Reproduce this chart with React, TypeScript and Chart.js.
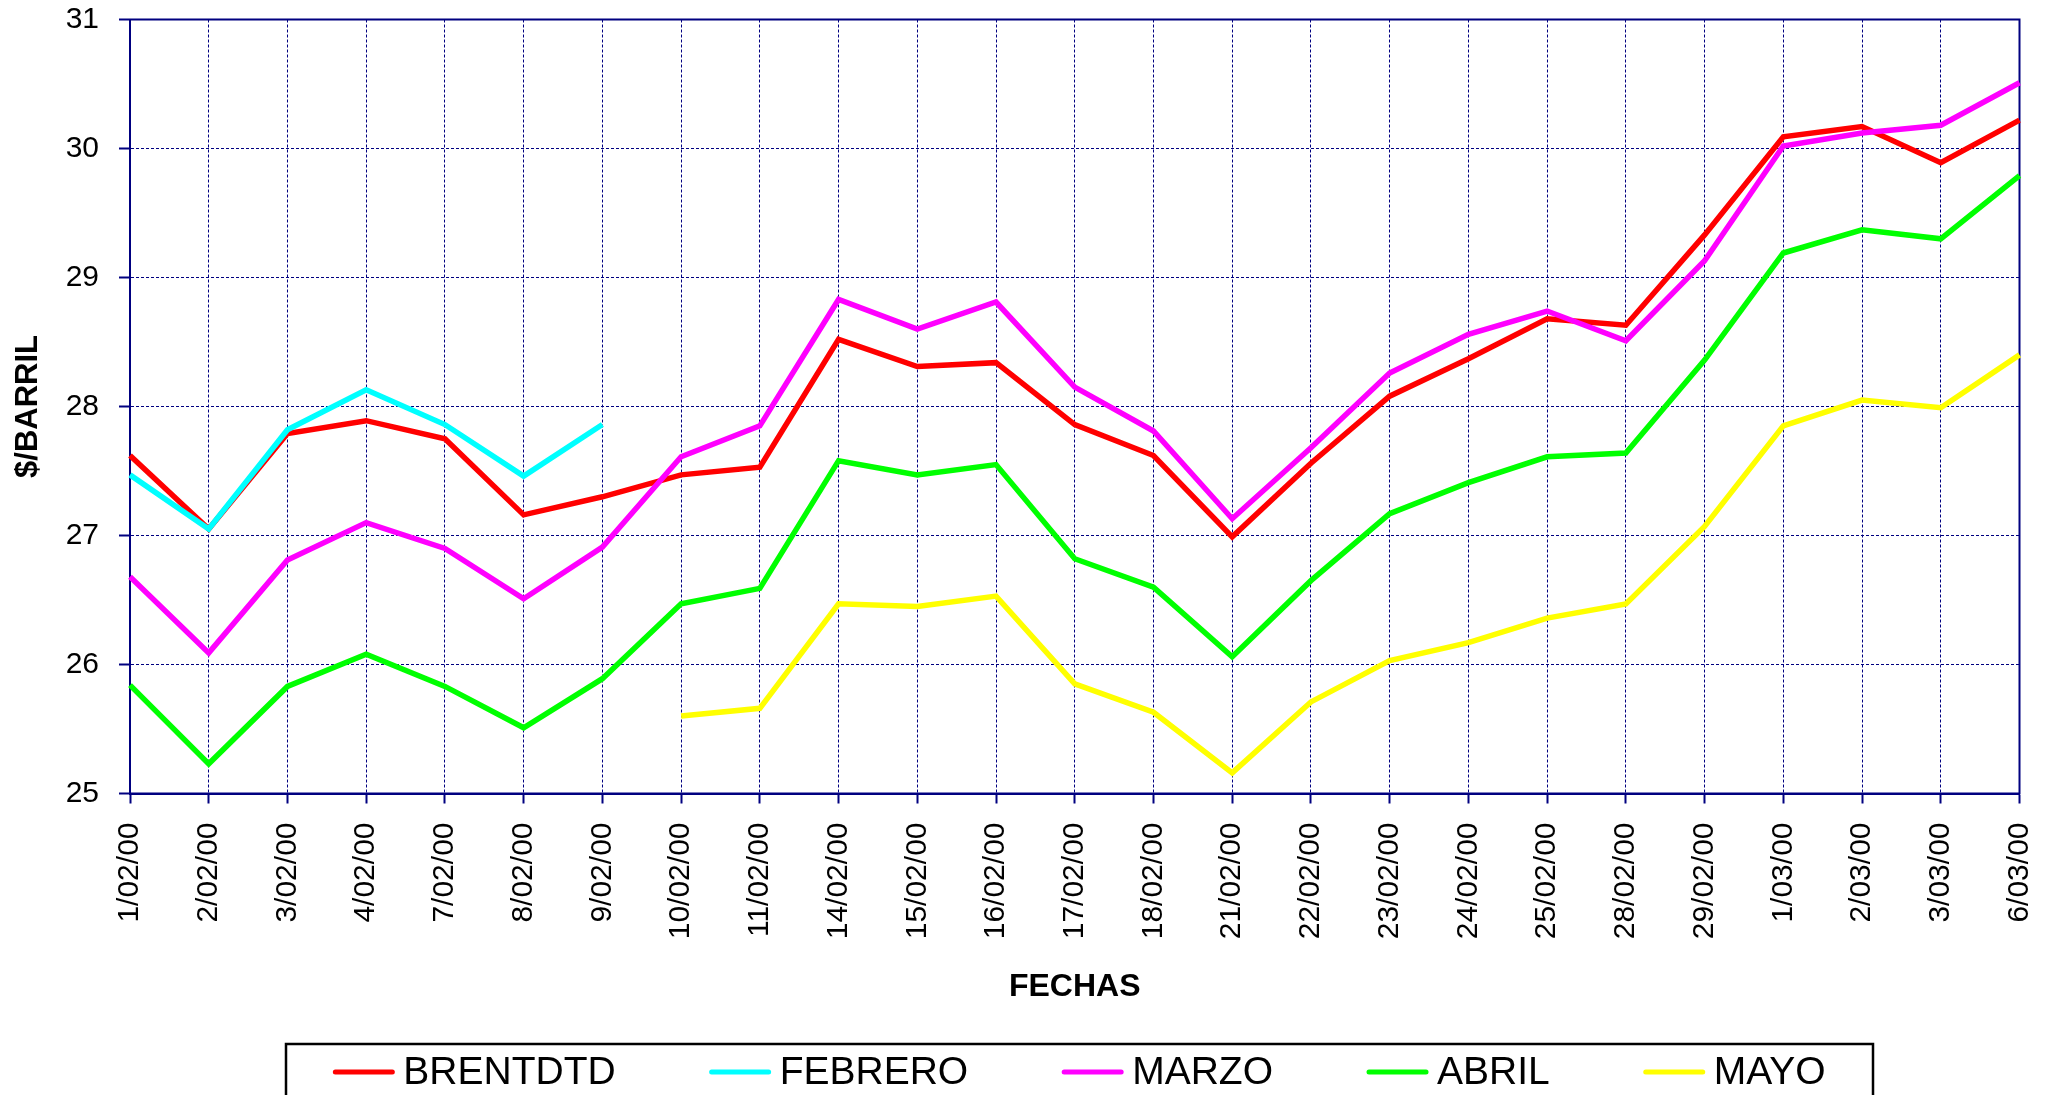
import React, { useEffect, useRef } from 'react';
import { Chart, registerables } from 'chart.js';

Chart.register(...registerables);

const categories = [
  '1/02/00', '2/02/00', '3/02/00', '4/02/00', '7/02/00', '8/02/00', '9/02/00',
  '10/02/00', '11/02/00', '14/02/00', '15/02/00', '16/02/00', '17/02/00', '18/02/00',
  '21/02/00', '22/02/00', '23/02/00', '24/02/00', '25/02/00', '28/02/00', '29/02/00',
  '1/03/00', '2/03/00', '3/03/00', '6/03/00',
];

const brentdtd = [
  27.62, 27.05, 27.79, 27.89, 27.75, 27.16, 27.30, 27.47, 27.53, 28.52, 28.31, 28.34,
  27.86, 27.62, 26.99, 27.56, 28.08, 28.37, 28.68, 28.63, 29.33, 30.09, 30.17, 29.89, 30.22,
];

const febrero = [
  27.47, 27.05, 27.82, 28.13, 27.86, 27.46, 27.86,
  null, null, null, null, null, null, null, null, null, null, null, null, null, null, null, null, null, null,
];

const marzo = [
  26.68, 26.09, 26.81, 27.10, 26.90, 26.51, 26.91, 27.61, 27.85, 28.83, 28.60, 28.81,
  28.15, 27.81, 27.13, 27.68, 28.26, 28.56, 28.74, 28.51, 29.13, 30.02, 30.12, 30.18, 30.51,
];

const abril = [
  25.84, 25.23, 25.83, 26.08, 25.83, 25.51, 25.89, 26.47, 26.59, 27.58, 27.47, 27.55,
  26.82, 26.60, 26.06, 26.65, 27.17, 27.41, 27.61, 27.64, 28.36, 29.19, 29.37, 29.30, 29.79,
];

const mayo = [
  null, null, null, null, null, null, null,
  25.60, 25.66, 26.47, 26.45, 26.53, 25.85, 25.63, 25.16, 25.71, 26.03, 26.17, 26.36,
  26.47, 27.07, 27.85, 28.05, 27.99, 28.40,
];

const yTicks = [25, 26, 27, 28, 29, 30, 31];

const seriesNames = ['BRENTDTD', 'FEBRERO', 'MARZO', 'ABRIL', 'MAYO'];
const seriesColors = ['#FF0000', '#00FFFF', '#FF00FF', '#00FF00', '#FFFF00'];
const seriesValues = [brentdtd, febrero, marzo, abril, mayo];

const FONT = '"Liberation Sans", Arial, sans-serif';
const NAVY = '#000080';

const framePlugin = {
  id: 'plotFrame',
  beforeDatasetsDraw(chart: any) {
    const { ctx, chartArea } = chart;
    ctx.save();
    ctx.strokeStyle = NAVY;
    ctx.lineWidth = 2;
    ctx.setLineDash([]);
    ctx.strokeRect(chartArea.left, chartArea.top, chartArea.right - chartArea.left, chartArea.bottom - chartArea.top);
    ctx.restore();
  },
};

const boxLegendPlugin = {
  id: 'boxLegend',
  afterDraw(chart: any) {
    const ctx = chart.ctx;
    const boxL = 286;
    const boxR = 1873;
    const boxT = 1044;
    const lineY = 1072;
    const sample = 61;
    const textGap = 9;
    const gap = 94;
    ctx.save();
    ctx.setLineDash([]);
    ctx.strokeStyle = '#000000';
    ctx.lineWidth = 2.5;
    ctx.strokeRect(boxL, boxT, boxR - boxL, 120);
    ctx.font = `39px ${FONT}`;
    const items = chart.data.datasets.map((ds: any) => ({
      label: ds.label,
      color: ds.borderColor,
      w: ctx.measureText(ds.label).width,
    }));
    const total =
      items.reduce((s: number, it: any) => s + sample + textGap + it.w, 0) + gap * (items.length - 1);
    let x = (boxL + boxR) / 2 - total / 2;
    ctx.textBaseline = 'middle';
    ctx.textAlign = 'left';
    for (const it of items) {
      ctx.strokeStyle = it.color;
      ctx.lineWidth = 5;
      ctx.lineCap = 'round';
      ctx.beginPath();
      ctx.moveTo(x + 2, lineY);
      ctx.lineTo(x + sample - 2, lineY);
      ctx.stroke();
      ctx.fillStyle = '#000000';
      ctx.fillText(it.label, x + sample + textGap, lineY + 1);
      x += sample + textGap + it.w + gap;
    }
    ctx.restore();
  },
};

export default function App() {
  const ref = useRef<HTMLCanvasElement>(null);

  useEffect(() => {
    document.body.style.margin = '0';
    document.body.style.overflow = 'hidden';
    const canvas = ref.current;
    if (!canvas) return;

    const datasets = seriesNames.map((name, i) => ({
      label: name,
      data: seriesValues[i],
      borderColor: seriesColors[i],
      backgroundColor: seriesColors[i],
      borderWidth: 5.5,
      pointRadius: 0,
      pointHoverRadius: 0,
      tension: 0,
      fill: false,
      spanGaps: false,
      order: seriesNames.length - 1 - i,
    }));

    const chart = new Chart(canvas, {
      type: 'line',
      data: { labels: categories, datasets },
      plugins: [framePlugin, boxLegendPlugin],
      options: {
        animation: false,
        responsive: false,
        devicePixelRatio: 1,
        layout: { padding: { top: 19.5, right: 36.5, left: 0, bottom: 0 } },
        plugins: {
          legend: { display: false },
          tooltip: { enabled: false },
          title: { display: false },
        },
        scales: {
          x: {
            type: 'category',
            offset: false,
            afterFit: (scale: any) => {
              scale.height = 301.5;
              scale.paddingLeft = 0;
              scale.paddingRight = 0;
              scale.paddingTop = 0;
              scale.paddingBottom = 0;
            },
            grid: {
              display: true,
              color: NAVY,
              lineWidth: 1,
              drawTicks: true,
              tickLength: 10,
              tickColor: NAVY,
              tickWidth: 2,
              tickBorderDash: [],
              offset: false,
            },
            border: { display: true, color: NAVY, width: 2, dash: [3, 2] },
            ticks: {
              autoSkip: false,
              minRotation: 90,
              maxRotation: 90,
              padding: 19,
              color: '#000000',
              font: { family: FONT, size: 30 },
            },
            title: {
              display: true,
              text: 'FECHAS',
              color: '#000000',
              font: { family: FONT, size: 32, weight: 'bold' },
              padding: { top: 0, bottom: 89 },
            },
          },
          y: {
            type: 'linear',
            min: 25,
            max: 31,
            afterFit: (scale: any) => {
              scale.width = 130;
              scale.paddingLeft = 0;
              scale.paddingRight = 0;
              scale.paddingTop = 0;
              scale.paddingBottom = 0;
            },
            afterBuildTicks: (scale: any) => {
              scale.ticks = yTicks.map((v) => ({ value: v }));
            },
            grid: {
              display: true,
              color: NAVY,
              lineWidth: 1,
              drawTicks: true,
              tickLength: 11,
              tickColor: NAVY,
              tickWidth: 2,
              tickBorderDash: [],
            },
            border: { display: true, color: NAVY, width: 2, dash: [3, 2] },
            ticks: {
              padding: 20,
              color: '#000000',
              font: { family: FONT, size: 30 },
            },
            title: {
              display: true,
              text: '$/BARRIL',
              color: '#000000',
              font: { family: FONT, size: 31, weight: 'bold' },
              padding: { top: 10, bottom: 0 },
            },
          },
        },
      },
    });

    return () => chart.destroy();
  }, []);

  return (
    <div style={{ width: 2056, height: 1095, overflow: 'hidden', background: '#ffffff' }}>
      <canvas ref={ref} width={2056} height={1095} style={{ display: 'block' }} />
    </div>
  );
}
